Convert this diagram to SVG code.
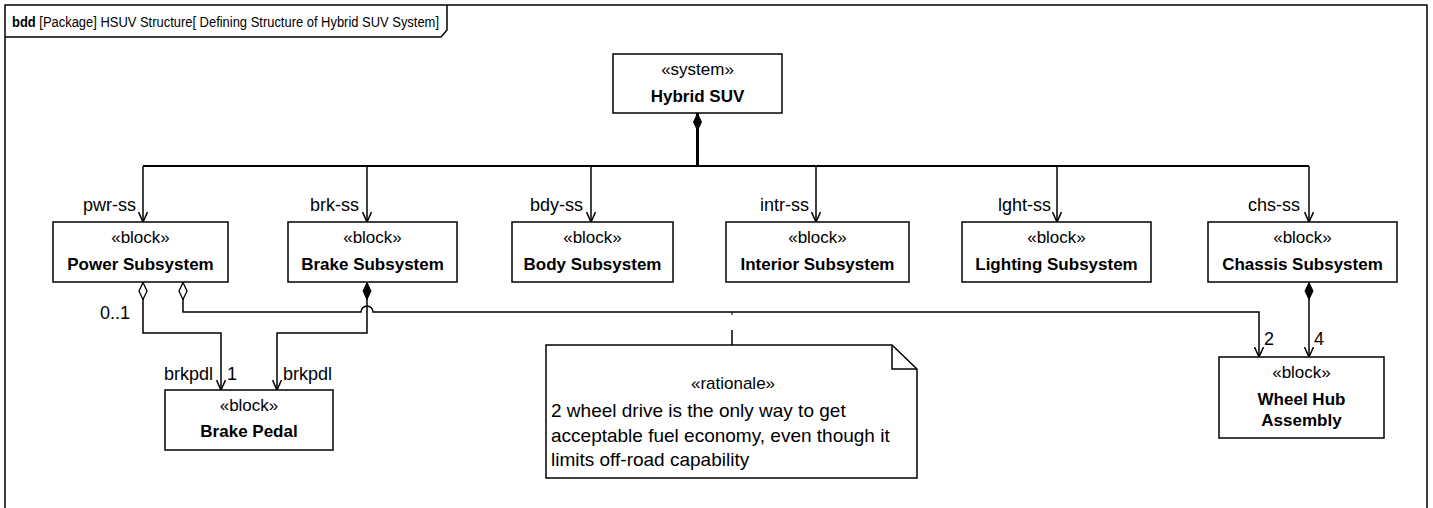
<svg xmlns="http://www.w3.org/2000/svg" width="1433" height="508" viewBox="0 0 1433 508">
<style>
text{font-family:"Liberation Sans",Arial,sans-serif;fill:#000}
.st{font-size:17px;text-anchor:middle}
.nm{font-size:17px;font-weight:bold;text-anchor:middle}
.lb{font-size:18px}
.end{text-anchor:end}
.nt{font-size:19px}
.box{fill:#fff;stroke:#000;stroke-width:1.5}
.cn{fill:none;stroke:#000;stroke-width:1.5}
</style>
<defs>
<marker id="arr" markerUnits="userSpaceOnUse" viewBox="0 0 10 10" refX="10" refY="5" markerWidth="10" markerHeight="10" orient="auto">
<path d="M0,0.5 L10,5 L0,9.5" fill="none" stroke="#000" stroke-width="1.5"/>
</marker>
<marker id="dfill" markerUnits="userSpaceOnUse" viewBox="0 0 18 10" refX="0" refY="5" markerWidth="18" markerHeight="10" orient="auto">
<path d="M0.5,5 L9,1 L17.5,5 L9,9 Z" fill="#000" stroke="#000" stroke-width="1"/>
</marker>
<marker id="dhol" markerUnits="userSpaceOnUse" viewBox="0 0 18 10" refX="0" refY="5" markerWidth="18" markerHeight="10" orient="auto">
<path d="M0.5,5 L9,1 L17.5,5 L9,9 Z" fill="#fff" stroke="#000" stroke-width="1.3"/>
</marker>
</defs>
<rect x="0" y="0" width="1433" height="508" fill="#fff"/>
<g id="frame">
<path d="M5,520 V5 H1427 V520" fill="none" stroke="#000" stroke-width="1.5"/>
<path d="M5,37 H441 L447,30 V5" fill="none" stroke="#000" stroke-width="1.5"/>
<text x="12" y="27" style="font-size:14px" textLength="427" lengthAdjust="spacingAndGlyphs"><tspan font-weight="bold">bdd</tspan>  [Package] HSUV Structure[ Defining Structure of Hybrid SUV System]</text>
</g>
<g id="connectors">
<path d="M697.5,113 V166" class="cn" style="stroke-width:3" marker-start="url(#dfill)"/>
<path d="M143,166 H1309" class="cn" style="stroke-width:2"/>
<path d="M143,166 V222" class="cn" marker-end="url(#arr)"/>
<path d="M367,166 V222" class="cn" marker-end="url(#arr)"/>
<path d="M591,166 V222" class="cn" marker-end="url(#arr)"/>
<path d="M816,166 V222" class="cn" marker-end="url(#arr)"/>
<path d="M1057,166 V222" class="cn" marker-end="url(#arr)"/>
<path d="M1309,166 V222" class="cn" marker-end="url(#arr)"/>
<path d="M143,282 V333 H221 V390" class="cn" marker-start="url(#dhol)" marker-end="url(#arr)"/>
<path d="M367,282 V333 H277 V390" class="cn" marker-start="url(#dfill)" marker-end="url(#arr)"/>
<path d="M183,282 V312 H361 A6,6 0 0 1 373,312 H1259 V357" class="cn" marker-start="url(#dhol)" marker-end="url(#arr)"/>
<path d="M1309,282 V357" class="cn" marker-start="url(#dfill)" marker-end="url(#arr)"/>
<path d="M732,330 V345" class="cn"/>
<path d="M732,312 V315" class="cn" style="stroke-width:1"/>
<text x="136" y="211" class="lb end">pwr-ss</text>
<text x="359" y="211" class="lb end">brk-ss</text>
<text x="583" y="211" class="lb end">bdy-ss</text>
<text x="809" y="211" class="lb end">intr-ss</text>
<text x="1051" y="211" class="lb end">lght-ss</text>
<text x="1300" y="211" class="lb end">chs-ss</text>
<text x="130" y="319" class="lb end">0..1</text>
<text x="213" y="380" class="lb end">brkpdl</text>
<text x="227" y="380" class="lb">1</text>
<text x="283" y="380" class="lb">brkpdl</text>
<text x="1264" y="345" class="lb">2</text>
<text x="1314" y="345" class="lb">4</text>
</g>
<g id="hybrid-suv">
<rect x="613" y="54" width="169" height="59" class="box"/>
<text x="697.5" y="75" class="st">«system»</text>
<text x="697.5" y="102" class="nm">Hybrid SUV</text>
</g>
<g id="power-subsystem">
<rect x="53" y="222" width="175" height="60" class="box"/>
<text x="140.5" y="243" class="st">«block»</text>
<text x="140.5" y="270" class="nm">Power Subsystem</text>
</g>
<g id="brake-subsystem">
<rect x="288" y="222" width="169" height="60" class="box"/>
<text x="372.5" y="243" class="st">«block»</text>
<text x="372.5" y="270" class="nm">Brake Subsystem</text>
</g>
<g id="body-subsystem">
<rect x="512" y="222" width="161" height="60" class="box"/>
<text x="592.5" y="243" class="st">«block»</text>
<text x="592.5" y="270" class="nm">Body Subsystem</text>
</g>
<g id="interior-subsystem">
<rect x="726" y="222" width="183" height="60" class="box"/>
<text x="817.5" y="243" class="st">«block»</text>
<text x="817.5" y="270" class="nm">Interior Subsystem</text>
</g>
<g id="lighting-subsystem">
<rect x="962" y="222" width="189" height="60" class="box"/>
<text x="1056.5" y="243" class="st">«block»</text>
<text x="1056.5" y="270" class="nm">Lighting Subsystem</text>
</g>
<g id="chassis-subsystem">
<rect x="1208" y="222" width="189" height="60" class="box"/>
<text x="1302.5" y="243" class="st">«block»</text>
<text x="1302.5" y="270" class="nm">Chassis Subsystem</text>
</g>
<g id="brake-pedal">
<rect x="165" y="390" width="168" height="60" class="box"/>
<text x="249" y="411" class="st">«block»</text>
<text x="249" y="437" class="nm">Brake Pedal</text>
</g>
<g id="wheel-hub-assembly">
<rect x="1219" y="357" width="165" height="81" class="box"/>
<text x="1301.5" y="378" class="st">«block»</text>
<text x="1301.5" y="405" class="nm">Wheel Hub</text>
<text x="1301.5" y="426" class="nm">Assembly</text>
</g>
<g id="rationale-note">
<path d="M546,345 H892 L917,369 V478 H546 Z" class="box"/>
<path d="M892,345 V369 H917" class="cn"/>
<text x="733" y="389" class="st">«rationale»</text>
<text x="551" y="417" class="nt">2 wheel drive is the only way to get</text>
<text x="551" y="442" class="nt">acceptable fuel economy, even though it</text>
<text x="551" y="466" class="nt">limits off-road capability</text>
</g>
</svg>
